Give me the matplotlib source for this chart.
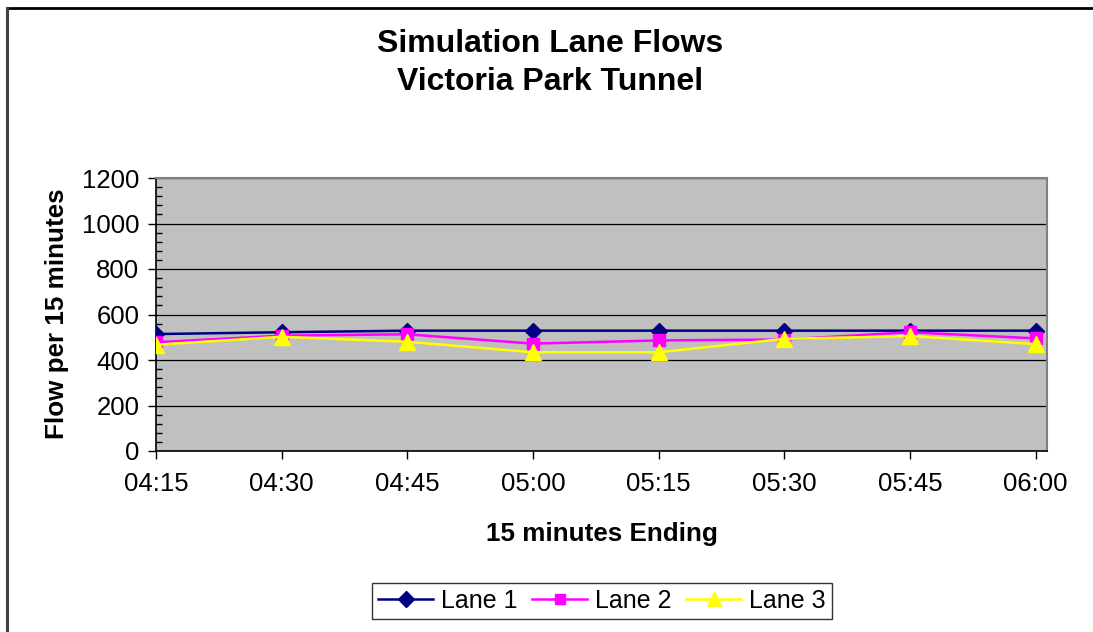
import matplotlib
matplotlib.use("Agg")
import matplotlib.pyplot as plt
from matplotlib.lines import Line2D
from matplotlib.ticker import MultipleLocator

categories = ["04:15", "04:30", "04:45", "05:00", "05:15", "05:30", "05:45", "06:00"]
lane1 = [514, 522, 529, 529, 529, 529, 529, 529]
lane2 = [478, 507, 513, 472, 486, 490, 522, 495]
lane3 = [467, 502, 480, 434, 434, 493, 505, 470]

plt.rcParams['font.family'] = ['Liberation Sans', 'DejaVu Sans']

fig = plt.figure(figsize=(10.93, 6.32), dpi=100)
fig.patch.set_facecolor("white")
ax = fig.add_axes([156/1093, 181/632, 891/1093, 273/632])
ax.set_facecolor("#C0C0C0")

x = list(range(len(categories)))
ax.plot(x, lane1, color="#000080", lw=1.8, marker="D", ms=8.5, mec="#000080", mfc="#000080", label="Lane 1", zorder=3)
ax.plot(x, lane2, color="#FF00FF", lw=1.8, marker="s", ms=8.5, mec="#FF00FF", mfc="#FF00FF", label="Lane 2", zorder=3)
ax.plot(x, lane3, color="#FFFF00", lw=1.8, marker="^", ms=11, mec="#FFFF00", mfc="#FFFF00", label="Lane 3", zorder=3)

ax.set_xlim(0, 7.09)
ax.set_ylim(0, 1200)
ax.set_xticks(x)
ax.set_xticklabels(categories)
ax.yaxis.set_major_locator(MultipleLocator(200))
ax.yaxis.set_minor_locator(MultipleLocator(40))
ax.grid(axis="y", which="major", color="#000000", lw=0.9, zorder=1)
ax.set_axisbelow(True)

ax.tick_params(axis="x", which="major", direction="out", length=6, width=1, pad=9, labelsize=18.5)
ax.tick_params(axis="y", which="major", direction="out", length=6, width=1, pad=6, labelsize=18.5)
ax.tick_params(axis="y", which="minor", direction="in", length=4, width=1)

for s in ["top", "right"]:
    ax.spines[s].set_color("#808080")
    ax.spines[s].set_linewidth(1.5)
for s in ["left", "bottom"]:
    ax.spines[s].set_color("#000000")
    ax.spines[s].set_linewidth(1.2)

fig.text(550/1093, 1 - 63/632, "Simulation Lane Flows\nVictoria Park Tunnel", ha="center", va="center",
         fontsize=23, fontweight="bold", linespacing=1.32)
fig.text(602/1093, 1 - 534/632, "15 minutes Ending", ha="center", va="center", fontsize=18.7, fontweight="bold")
fig.text(57/1093, 1 - 314/632, "Flow per 15 minutes", ha="center", va="center", rotation=90,
         fontsize=18.7, fontweight="bold")

leg = fig.legend(loc="center", bbox_to_anchor=(602/1093, 1 - 601/632), ncol=3, fontsize=18,
                 frameon=True, fancybox=False, edgecolor="black", handlelength=2.2,
                 handletextpad=0.3, columnspacing=0.6, borderpad=0.25, markerscale=0.9)
leg.get_frame().set_linewidth(1.0)

fig.add_artist(Line2D([7/1093, 1.0], [1 - 8/632, 1 - 8/632], color="black", lw=2, transform=fig.transFigure))
fig.add_artist(Line2D([7/1093, 7/1093], [0.0, 1 - 8/632], color="#404040", lw=2.2, transform=fig.transFigure))

fig.savefig("out.png", dpi=100)
